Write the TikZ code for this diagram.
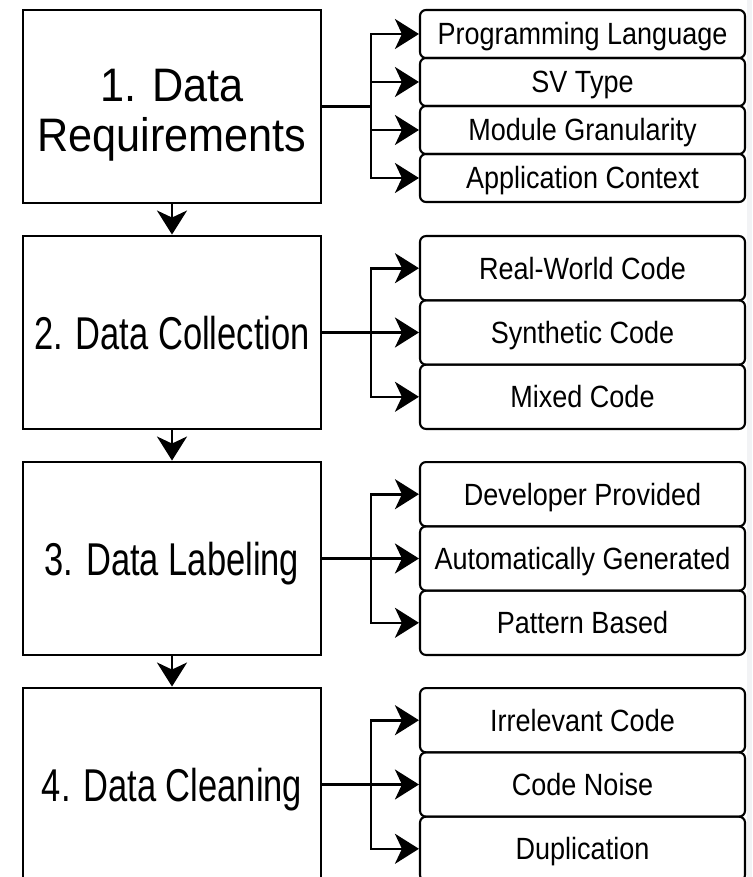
\documentclass[tikz,border=0pt]{standalone}
\usepackage{fontspec}
\setmainfont{Liberation Sans}
\newfontfamily\stagefont{Liberation Sans}[FakeStretch=0.75]
\newfontfamily\widestagefont{Liberation Sans}[FakeStretch=0.92]
\newfontfamily\itemfont{Liberation Sans}[FakeStretch=0.88]
\usetikzlibrary{arrows.meta}
\definecolor{edgegray}{HTML}{F2F3F5}
\begin{document}
\begin{tikzpicture}[x=1pt,y=-1pt,
  stage/.style={draw, line width=2.9pt, minimum width=298pt, minimum height=193pt,
    inner sep=0pt, font=\stagefont\fontsize{46}{50}\selectfont,
    text height=33pt, text depth=0pt},
  stagetext/.style={inner sep=0pt, align=center, font=\widestagefont\fontsize{47}{50}\selectfont},
  item/.style={draw, line width=2.1pt, rounded corners=6pt, minimum width=325pt,
    inner sep=0pt, font=\itemfont\fontsize{30.7}{36}\selectfont,
    text height=22pt, text depth=0pt},
  link/.style={line width=2.6pt, -{Stealth[length=24pt,width=30pt,inset=7pt]}}]

\useasboundingbox (0,0) rectangle (752,877);
\clip (0,0) rectangle (752,877);
\fill[edgegray] (747,0) rectangle (752,877);

% trunk x-position shared by all branch connectors
\coordinate (trunk) at (371,0);

% stage boxes
\node[stage] (s1) at (172,106.5) {};
\node[stagetext] (s1text) at (172,115) {1. Data\\Requirements};
\node[stage] (s2) at (172,332.5) {2. Data Collection};
\node[stage] (s3) at (172,558.5) {3. Data Labeling};
\node[stage] (s4) at (172,784.5) {4. Data Cleaning};

% sub-items of stage 1
\node[item, minimum height=48pt] (a1) at (582.5,34)  {Programming Language};
\node[item, minimum height=48pt] (a2) at (582.5,82)  {SV Type};
\node[item, minimum height=48pt] (a3) at (582.5,130) {Module Granularity};
\node[item, minimum height=48pt] (a4) at (582.5,178) {Application Context};

% sub-items of stage 2
\node[item, minimum height=64.3pt] (b1) at (582.5,268.2) {Real-World Code};
\node[item, minimum height=64.3pt] (b2) at (582.5,332.5) {Synthetic Code};
\node[item, minimum height=64.3pt] (b3) at (582.5,396.8) {Mixed Code};

% sub-items of stage 3
\node[item, minimum height=64.3pt] (c1) at (582.5,494.2) {Developer Provided};
\node[item, minimum height=64.3pt] (c2) at (582.5,558.5) {Automatically Generated};
\node[item, minimum height=64.3pt] (c3) at (582.5,622.8) {Pattern Based};

% sub-items of stage 4
\node[item, minimum height=64.3pt] (d1) at (582.5,720.2) {Irrelevant Code};
\node[item, minimum height=64.3pt] (d2) at (582.5,784.5) {Code Noise};
\node[item, minimum height=64.3pt] (d3) at (582.5,848.8) {Duplication};

% flow between stages
\draw[link] (s1.south) -- (s2.north);
\draw[link] (s2.south) -- (s3.north);
\draw[link] (s3.south) -- (s4.north);

% branch connectors
\foreach \t in {a1,a2,a3,a4}
  \draw[link] (s1.east) -- (s1.east -| trunk) |- (\t.west);
\foreach \t in {b1,b2,b3}
  \draw[link] (s2.east) -- (s2.east -| trunk) |- (\t.west);
\foreach \t in {c1,c2,c3}
  \draw[link] (s3.east) -- (s3.east -| trunk) |- (\t.west);
\foreach \t in {d1,d2,d3}
  \draw[link] (s4.east) -- (s4.east -| trunk) |- (\t.west);
\end{tikzpicture}
\end{document}
